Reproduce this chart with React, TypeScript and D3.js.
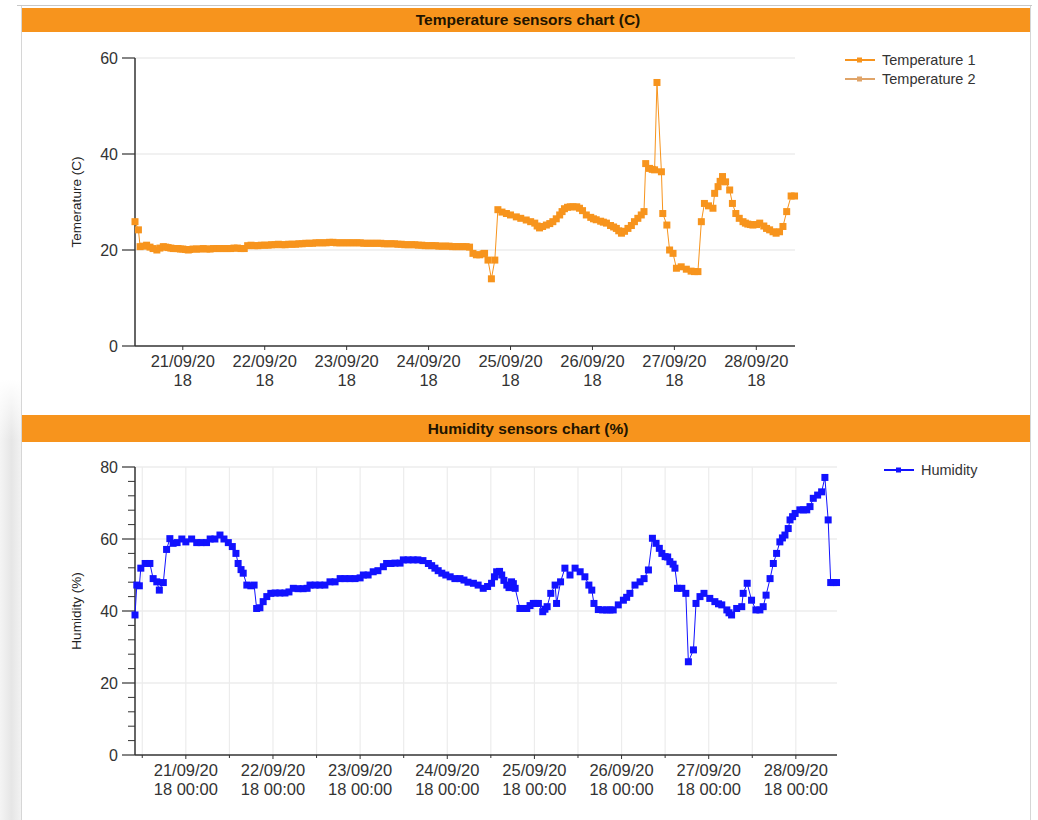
import React from 'react';
import * as d3 from 'd3';

// time axis: hours counted from 21/09/20 04:00
const START = new Date(2020, 8, 21, 4, 0);
const END = new Date(2020, 8, 29, 5, 20);

// [hour, °C]
const temperature1: [number, number][] = [
  [0, 25.9], [1, 24.2], [1.5, 20.7], [2.5, 20.8], [3.4, 21.0], [4.4, 20.6], [5.3, 20.3], [6.4, 20.0],
  [7.3, 20.4], [8.3, 20.7], [9, 20.6], [9.7, 20.5], [10.5, 20.4], [11.2, 20.3], [12, 20.3], [12.6, 20.3],
  [13.3, 20.2], [14, 20.2], [14.8, 20.1], [15.6, 20.0], [16, 20.1], [17, 20.2], [18, 20.2], [19, 20.2],
  [20, 20.3], [21, 20.2], [22, 20.2], [23, 20.3], [24, 20.3], [25, 20.3], [26, 20.3], [27, 20.3],
  [28, 20.3], [29, 20.4], [30, 20.4], [31, 20.3], [32, 20.3], [33, 20.9], [34, 21.0], [35, 20.9],
  [36, 20.9], [37, 21.0], [38, 21.0], [39, 21.0], [40, 21.1], [41, 21.1], [42, 21.2], [43, 21.1],
  [44, 21.1], [45, 21.2], [46, 21.2], [47, 21.2], [48, 21.3], [49, 21.3], [50, 21.4], [51, 21.4],
  [52, 21.4], [53, 21.5], [54, 21.5], [55, 21.5], [56, 21.5], [57, 21.6], [58, 21.6], [59, 21.5],
  [60, 21.5], [61, 21.5], [62, 21.5], [63, 21.5], [64, 21.5], [65, 21.5], [66, 21.5], [67, 21.4],
  [68, 21.4], [69, 21.4], [70, 21.4], [71, 21.4], [72, 21.4], [73, 21.3], [74, 21.3], [75, 21.3],
  [76, 21.3], [77, 21.2], [78, 21.2], [79, 21.1], [80, 21.1], [81, 21.1], [82, 21.1], [83, 21.0],
  [84, 21.0], [85, 20.9], [86, 20.9], [87, 20.9], [88, 20.9], [89, 20.8], [90, 20.8], [91, 20.8],
  [92, 20.8], [93, 20.7], [94, 20.7], [95, 20.7], [96, 20.7], [97, 20.7], [98, 20.6], [99, 19.3],
  [100, 19.0], [101, 19.0], [102, 19.2], [102.4, 19.3], [103.4, 17.9], [104.4, 14.0], [105.4, 17.9],
  [106.3, 28.4], [107.5, 27.9], [108.8, 27.6], [110, 27.3], [111.7, 26.9], [113, 26.6], [114.6, 26.25], [115.9, 25.9],
  [117.1, 25.6], [117.8, 25.0], [118.5, 24.6], [119.4, 24.9], [120.5, 25.2], [121.5, 25.5], [122.4, 25.9],
  [123.4, 26.5], [124.4, 27.3], [125.1, 28.0], [125.8, 28.6], [126.7, 28.9], [127.5, 29.0], [128.3, 29.0], [129.4, 29.0],
  [130.2, 28.7], [131.1, 28.2], [132.2, 27.3], [133.5, 26.8], [134.3, 26.5], [135.1, 26.3], [136.4, 26.0], [137.2, 25.8], [138.1, 25.6],
  [139.3, 25.1], [140.2, 24.8], [141, 24.5], [141.7, 24.0], [142.5, 23.5], [143.4, 23.9], [144.4, 24.5], [145.4, 25.1],
  [146.3, 25.9], [147.3, 26.6], [148.3, 27.3], [149.1, 28.0], [149.6, 38.0], [150.7, 37.0], [151.5, 36.8],
  [152.2, 36.7], [152.9, 54.9], [154.2, 36.3], [154.6, 27.6], [155.8, 25.2], [156.6, 20.0], [157.6, 19.3],
  [158.6, 16.2], [160, 16.5], [161.5, 16.0], [162.9, 15.6], [163.9, 15.5], [164.9, 15.5], [165.9, 25.9],
  [166.8, 29.7], [168, 29.2], [169.3, 28.7], [169.8, 31.8], [170.8, 33.2], [171.4, 34.3], [172.1, 35.3],
  [173, 34.2], [174.2, 32.5], [175, 29.7], [176, 27.6], [177, 26.6], [178.1, 25.9], [178.8, 25.6], [179.5, 25.4],
  [180.3, 25.3], [181, 25.2], [182.1, 25.3], [183, 25.6], [184.2, 25.0], [185, 24.5], [185.9, 24.2], [186.9, 23.8],
  [187.8, 23.5], [188.8, 23.8], [189.8, 24.9], [190.9, 28.0], [192.2, 31.25], [193.2, 31.25],
];
// second sensor: only in the legend, nothing visible on the plot
const temperature2: [number, number][] = [];

// [hour, %]
const humidity: [number, number][] = [
  [0, 38.9], [0.5, 47.2], [1.2, 47.0], [1.6, 51.9], [2.8, 53.2], [4.1, 53.2], [5, 49.0], [6, 48.1],
  [6.7, 45.8], [7.8, 47.9], [8.7, 57.1], [9.6, 60.1], [10.5, 58.8], [11.6, 59.0], [12.9, 60.0], [14, 59.2],
  [15.6, 60.0], [17, 59.0], [18.2, 59.0], [19.7, 59.0], [20.7, 60.0], [22, 60.0], [23.4, 61.1], [24.5, 60.0],
  [25.7, 59.0], [26.8, 57.9], [27.8, 56.0], [28.4, 53.2], [29.2, 51.5], [29.8, 50.5], [30.8, 47.2], [31.9, 47.0],
  [32.8, 47.2], [33.5, 40.7], [34.4, 40.9], [35.3, 42.6], [36.3, 44.0], [37.4, 44.9], [38.6, 45.0], [39.9, 45.0],
  [41.3, 45.0], [42.4, 45.3], [43.6, 46.3], [44.9, 46.2], [46.3, 46.2], [47.4, 46.3], [48.2, 47.2], [49.6, 47.2],
  [50.9, 47.2], [52.3, 47.2], [53.7, 48.1], [55.1, 48.1], [56.5, 49.0], [57.8, 49.0], [59.2, 49.0], [60.6, 49.0],
  [62, 49.2], [62.9, 50.0], [64.2, 50.0], [65.6, 50.9], [66.9, 51.2], [68.4, 52.3], [69.3, 53.2], [70.5, 53.2],
  [71.6, 53.3], [73, 53.3], [73.9, 54.2], [75.2, 54.2], [76.6, 54.2], [77.9, 54.2], [79.3, 54.0], [80.8, 53.2],
  [81.7, 52.6], [82.6, 51.9], [83.5, 51.2], [84.5, 50.5], [85.6, 50.0], [86.8, 49.5], [88.1, 49.0], [89.5, 49.0],
  [90.6, 48.6], [91.7, 48.0], [93.2, 47.7], [94.5, 47.2], [95.9, 46.3], [97.1, 46.8], [98.2, 47.7], [99, 49.5],
  [99.6, 50.9], [100.4, 51.0], [101, 50.0], [101.6, 48.5], [102.4, 47.2], [103, 46.5], [103.7, 48.1], [104.2, 47.6],
  [104.7, 46.3], [106, 40.7], [106.9, 40.7], [107.9, 40.7], [108.8, 41.5], [109.7, 42.1], [110.4, 42.1], [111.1, 42.1],
  [112.3, 39.8], [112.9, 40.5], [113.5, 41.2], [114.5, 44.9], [115.7, 47.2], [116.1, 42.1], [117.2, 48.1], [118.4, 51.9],
  [119.8, 50.0], [121.2, 51.9], [122.6, 50.9], [123.9, 49.5], [125, 47.2], [125.8, 45.8], [126.4, 42.1], [127.6, 40.4],
  [128.8, 40.3], [129.9, 40.3], [130.8, 40.3], [131.7, 40.3], [133.1, 41.7], [134.5, 43.0], [135.4, 43.8], [136.3, 44.9],
  [137.7, 47.2], [139.1, 48.1], [140.2, 49.0], [141.4, 51.4], [142.5, 60.2], [143.5, 58.8], [144.4, 57.4], [145.1, 56.0],
  [146, 55.1], [146.7, 55.0], [147.3, 53.7], [148.2, 53.0], [148.7, 51.9], [149.4, 46.3], [150.6, 46.3], [151.7, 44.9],
  [152.4, 25.9], [153.8, 29.2], [154.5, 42.1], [155.6, 44.0], [156.7, 44.9], [158.3, 43.5], [159.7, 42.6], [160.7, 42.0],
  [161.6, 41.7], [163, 40.3], [163.6, 39.5], [164.3, 38.9], [165.7, 40.7], [167.1, 41.2], [167.5, 44.9], [168.6, 47.7],
  [169.8, 43.0], [171, 40.3], [172.1, 40.3], [173, 41.2], [173.8, 44.4], [174.9, 49.0], [175.8, 53.2], [176.7, 56.0],
  [177.6, 59.2], [178.3, 60.3], [179, 61.1], [179.9, 62.9], [180.4, 65.3], [181.1, 66.2], [181.8, 67.1], [183.1, 68.1],
  [184.1, 68.1], [185, 68.1], [185.9, 69.0], [186.8, 71.3], [188, 72.2], [189.1, 73.1], [190, 77.1], [190.9, 65.3],
  [191.6, 47.9], [192.4, 47.9], [193.2, 47.9],
];

const tempTicks = [0, 20, 40, 60];
const humTicks = [0, 20, 40, 60, 80];
const humMinorStep = 4;

const ORANGE = '#f7941d';
const BLUE = '#1212ff';
const FONT = "'Liberation Sans', Arial, sans-serif";

const toDate = (h: number) => new Date(START.getTime() + h * 3600e3);
const fmtDay = d3.timeFormat('%d/%m/%y');

type Series = { name: string; color: string; data: [number, number][]; marker: number };

type PanelProps = {
  barTop: number; barH: number; title: string;
  x0: number; x1: number; yTop: number; yBot: number;
  yMax: number; ticks: number[]; minorStep?: number; vGrid: boolean;
  hourFmt: string; yLabel: string;
  series: Series[]; legendX: number; legendY: number;
};

function Panel(p: PanelProps) {
  const x = d3.scaleTime().domain([START, END]).range([p.x0, p.x1]);
  const y = d3.scaleLinear().domain([0, p.yMax]).range([p.yBot, p.yTop]);
  const fmtHour = d3.timeFormat(p.hourFmt);
  const hours = d3.timeHour.range(START, END);
  const majors = hours.filter(d => d.getHours() === 18);
  const minors = hours.filter(d => d.getHours() === 6);
  const line = d3.line<[number, number]>().x(d => x(toDate(d[0]))).y(d => y(d[1]));
  const minorVals = p.minorStep ? d3.range(0, p.yMax, p.minorStep).filter(v => !p.ticks.includes(v)) : [];

  return (
    <g>
      <rect x={22} y={p.barTop} width={1008} height={p.barH} fill={ORANGE} />
      <text x={528} y={p.barTop + p.barH / 2 + 5} textAnchor="middle" fontFamily={FONT}
        fontSize={15.5} fontWeight="bold" fill="#221400">{p.title}</text>

      {/* grid */}
      {p.ticks.filter(t => t > 0).map(t => (
        <line key={'h' + t} x1={p.x0} x2={p.x1} y1={y(t)} y2={y(t)} stroke="#e3e3e3" strokeWidth={1.2} />
      ))}
      {p.vGrid && [...majors, ...minors].map(d => (
        <line key={'v' + d.getTime()} x1={x(d)} x2={x(d)} y1={p.yTop} y2={p.yBot} stroke="#ececec" strokeWidth={1.2} />
      ))}

      {/* y axis */}
      <line x1={p.x0} x2={p.x0} y1={p.yTop} y2={p.yBot} stroke="#333" strokeWidth={1.5} />
      {p.ticks.map(t => (
        <g key={'yt' + t}>
          <line x1={p.x0 - 13} x2={p.x0} y1={y(t)} y2={y(t)} stroke="#333" strokeWidth={1.2} />
          <text x={118} y={y(t) + 6} textAnchor="end" fontFamily={FONT} fontSize={16} fill="#333">{t}</text>
        </g>
      ))}
      {minorVals.map(v => (
        <line key={'ym' + v} x1={p.x0 - 7} x2={p.x0} y1={y(v)} y2={y(v)} stroke="#333" strokeWidth={1} />
      ))}
      <text transform={`translate(81,${(p.yTop + p.yBot) / 2}) rotate(-90)`} textAnchor="middle"
        fontFamily={FONT} fontSize={13.5} fill="#222">{p.yLabel}</text>

      {/* x axis */}
      <line x1={p.x0} x2={p.x1} y1={p.yBot} y2={p.yBot} stroke="#333" strokeWidth={1.5} />
      {majors.map(d => (
        <g key={'xt' + d.getTime()}>
          <line x1={x(d)} x2={x(d)} y1={p.yBot} y2={p.yBot + 4} stroke="#333" />
          <text x={x(d)} y={p.yBot + 21} textAnchor="middle" fontFamily={FONT} fontSize={16.5} fill="#333">{fmtDay(d)}</text>
          <text x={x(d)} y={p.yBot + 40} textAnchor="middle" fontFamily={FONT} fontSize={16.5} fill="#333">{fmtHour(d)}</text>
        </g>
      ))}
      {p.vGrid && minors.map(d => (
        <line key={'xm' + d.getTime()} x1={x(d)} x2={x(d)} y1={p.yBot} y2={p.yBot + 3} stroke="#333" />
      ))}

      {/* series */}
      {p.series.map(s => (
        <g key={s.name}>
          <path d={line(s.data) || ''} fill="none" stroke={s.color} strokeWidth={1} />
          {s.data.map((d, i) => (
            <rect key={i} x={x(toDate(d[0])) - s.marker / 2} y={y(d[1]) - s.marker / 2}
              width={s.marker} height={s.marker} fill={s.color} />
          ))}
        </g>
      ))}

      {/* legend */}
      {p.series.map((s, i) => (
        <g key={'lg' + s.name} transform={`translate(${p.legendX},${p.legendY + i * 19})`}>
          <line x1={0} x2={30} y1={0} y2={0} stroke={s.color} strokeWidth={2} />
          <rect x={12} y={-2.5} width={5} height={5} fill={s.color} />
          <text x={37} y={5} fontFamily={FONT} fontSize={14.5} fill="#333">{s.name}</text>
        </g>
      ))}
    </g>
  );
}

export default function App() {
  return (
    <div style={{ position: 'absolute', left: 0, top: 0 }}>
      <svg width={1038} height={820} style={{ display: 'block', background: '#fff' }}>
        <defs>
          <linearGradient id="shade" x1="0" x2="1" y1="0" y2="0">
            <stop offset="0%" stopColor="#f4f4f4" />
            <stop offset="55%" stopColor="#e6e6e6" />
            <stop offset="100%" stopColor="#f2f2f2" />
          </linearGradient>
          <linearGradient id="shadeV" x1="0" x2="0" y1="0" y2="1">
            <stop offset="0%" stopColor="#fff" stopOpacity={1} />
            <stop offset="100%" stopColor="#fff" stopOpacity={0} />
          </linearGradient>
        </defs>
        <rect x={0} y={380} width={21} height={440} fill="url(#shade)" />
        <rect x={0} y={380} width={21} height={60} fill="url(#shadeV)" />
        <line x1={21.5} x2={21.5} y1={5} y2={820} stroke="#d6d6d6" />
        <line x1={1030.5} x2={1030.5} y1={5} y2={820} stroke="#d6d6d6" />
        <line x1={17} x2={1032} y1={5.5} y2={5.5} stroke="#c8c8c8" />

        <Panel barTop={8} barH={24} title="Temperature sensors chart (C)"
          x0={135} x1={795} yTop={58} yBot={346} yMax={60} ticks={tempTicks} vGrid={false}
          hourFmt="%H" yLabel="Temerature (C)" legendX={845} legendY={60}
          series={[
            { name: 'Temperature 1', color: ORANGE, data: temperature1, marker: 7 },
            { name: 'Temperature 2', color: '#e0a468', data: temperature2, marker: 4 },
          ]} />

        <Panel barTop={415} barH={27} title="Humidity sensors chart (%)"
          x0={135} x1={837} yTop={467} yBot={755} yMax={80} ticks={humTicks} minorStep={humMinorStep} vGrid={true}
          hourFmt="%H %M:%S" yLabel="Humidity (%)" legendX={884} legendY={470}
          series={[{ name: 'Humidity', color: BLUE, data: humidity, marker: 7 }]} />
      </svg>
    </div>
  );
}
